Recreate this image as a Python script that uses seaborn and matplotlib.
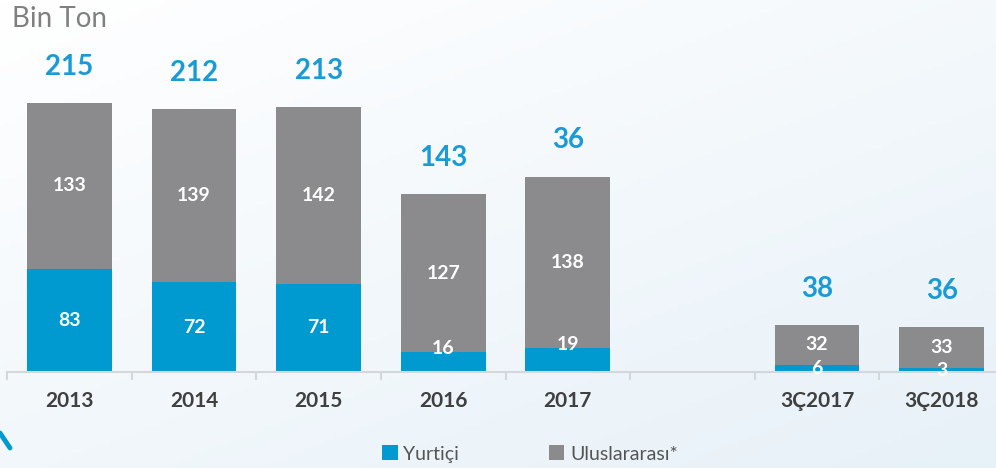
import matplotlib
matplotlib.use("Agg")
import matplotlib.pyplot as plt
import seaborn as sns
import numpy as np
import pandas as pd
from matplotlib.lines import Line2D

# data
categories = ['2013', '2014', '2015', '2016', '2017', '3Ç2017', '3Ç2018']
order = ['2013', '2014', '2015', '2016', '2017', ' ', '3Ç2017', '3Ç2018']
yurtici = [83, 72, 71, 16, 19, 6, 3]
uluslararasi = [133, 139, 142, 127, 138, 32, 33]
total_labels = ['215', '212', '213', '143', '36', '38', '36']

blue = '#0099D0'
gray = '#8B8B8D'
lblue = '#1A9BD7'

df = pd.DataFrame({'Yil': categories, 'Yurtiçi': yurtici, 'Uluslararası*': uluslararasi})
df['Toplam'] = df['Yurtiçi'] + df['Uluslararası*']

sns.set_style("white")
plt.rcParams['font.family'] = ['Lato', 'DejaVu Sans']

fig = plt.figure(figsize=(9.96, 4.68), dpi=100)

# light background gradient
bg = fig.add_axes([0, 0, 1, 1], zorder=-10)
gx, gy = np.meshgrid(np.linspace(0, 1, 200), np.linspace(0, 1, 100))
grad = 0.55 * gy + 0.45 * gx
bg.imshow(grad, cmap=matplotlib.colors.LinearSegmentedColormap.from_list('bgc', ['#FFFFFF', '#E7F1F8']),
          aspect='auto', extent=[0, 1, 0, 1], origin='upper')
bg.axis('off')
fig.add_artist(Line2D([0, 10 / 996], [1 - 433 / 468, 1 - 448 / 468], color=blue, lw=3.5,
                      transform=fig.transFigure))

ax = fig.add_axes([7 / 996, 96 / 468, 997 / 996, 361 / 468])
ax.patch.set_alpha(0)

sns.barplot(data=df, x='Yil', y='Toplam', order=order, color=gray, width=0.68,
            saturation=1, label='Uluslararası*', linewidth=0, ax=ax)
sns.barplot(data=df, x='Yil', y='Yurtiçi', order=order, color=blue, width=0.68,
            saturation=1, label='Yurtiçi', linewidth=0, ax=ax)
h, l = ax.get_legend_handles_labels()
if ax.get_legend() is not None:
    ax.get_legend().remove()

ax.set_ylim(0, 290)
ax.set_xlim(-0.5, 7.5)

for i, cat in enumerate(categories):
    xi = order.index(cat)
    y1 = yurtici[i]
    y2 = uluslararasi[i]
    tot = y1 + y2
    # domestic label
    if y1 >= 40 or y1 < 10:
        py = y1 / 2
    else:
        py = y1 + 3
    ax.text(xi, py, str(y1), ha='center', va='center', color='white',
            fontsize=14, fontweight='bold')
    ax.text(xi, y1 + y2 / 2, str(y2), ha='center', va='center', color='white',
            fontsize=14, fontweight='bold')
    ax.annotate(total_labels[i], (xi, tot), xytext=(0, 26), textcoords='offset points',
                ha='center', va='center', color=lblue, fontsize=20, fontweight='bold')

sns.despine(ax=ax, left=True, top=True, right=True)
ax.spines['bottom'].set_color('#D4D8DC')
ax.spines['bottom'].set_linewidth(1.5)
ax.set_yticks([])
ax.set_xlabel('')
ax.set_ylabel('')
ax.set_xticks(range(len(order)))
ax.set_xticklabels(order, fontsize=15, fontweight='bold', color='#404040')
ax.set_xticks(np.arange(-0.5, 8.0, 1.0), minor=True)
ax.tick_params(axis='x', which='major', length=0, pad=14)
ax.tick_params(axis='x', which='minor', length=6, width=1.5, color='#D4D8DC', direction='out', bottom=True)

fig.text(12 / 996, 1 - 19 / 468, 'Bin Ton', fontsize=20, color='#808080', ha='left', va='center')

leg = fig.legend(h[::-1], l[::-1], loc='center', bbox_to_anchor=(530 / 996, 1 - 454 / 468),
                 ncol=2, frameon=False, fontsize=14, handlelength=0.8, handleheight=0.8,
                 handletextpad=0.3, columnspacing=4.6)
for t in leg.get_texts():
    t.set_color('#555555')

fig.savefig('out.png', dpi=100)
